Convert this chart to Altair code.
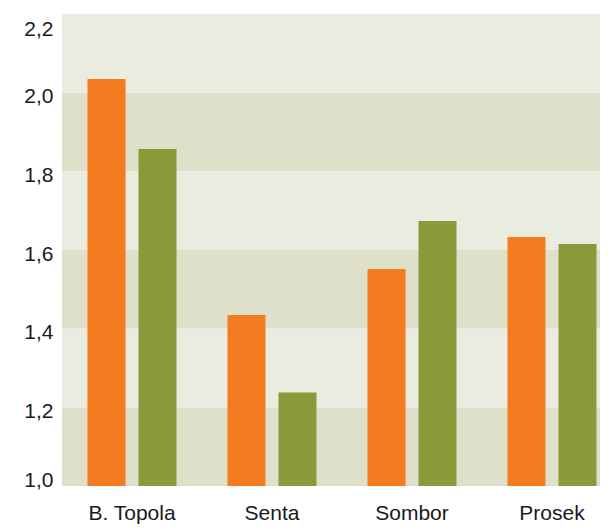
import altair as alt
import pandas as pd

categories = ["B. Topola", "Senta", "Sombor", "Prosek"]
series = ["Serija 1", "Serija 2"]
values_1 = [2.035, 1.435, 1.552, 1.633]
values_2 = [1.857, 1.238, 1.674, 1.615]
colors = ["#F47B20", "#8A9A3B"]

band_lo = [1.0, 1.2, 1.4, 1.6, 1.8, 2.0]
band_hi = [1.2, 1.4, 1.6, 1.8, 2.0, 2.2]
band_kind = ["dark", "light", "dark", "light", "dark", "light"]
band_colors = ["#DFE0CA", "#EBECE0"]
tick_values = [1.0, 1.2, 1.4, 1.6, 1.8, 2.0, 2.2]

rows = []
for c, v1, v2 in zip(categories, values_1, values_2):
    rows.append({"grad": c, "serija": series[0], "v": v1})
    rows.append({"grad": c, "serija": series[1], "v": v2})
df = pd.DataFrame(rows)
bands = pd.DataFrame({"lo": band_lo, "hi": band_hi, "kind": band_kind})

FONT = "Liberation Sans"
yscale = alt.Scale(domain=[1.0, 2.2], zero=False, nice=False)
yaxis = alt.Axis(title=None, values=tick_values, ticks=False, domain=False, grid=False,
                 labelPadding=9, labelFontSize=21, labelColor="#1a1a1a",
                 labelFont=FONT, labelFlush=True, labelOffset=4,
                 labelExpr="replace(format(datum.value, '.1f'), '.', ',')")

bg = alt.Chart(bands).mark_rect().encode(
    y=alt.Y("lo:Q", scale=yscale, axis=yaxis),
    y2="hi:Q",
    color=alt.Color("kind:N", scale=alt.Scale(domain=["dark", "light"], range=band_colors), legend=None),
)

bars = alt.Chart(df).mark_bar().encode(
    x=alt.X("grad:N", sort=categories,
            scale=alt.Scale(paddingInner=0, paddingOuter=0, range=[0, 560]),
            axis=alt.Axis(title=None, labelAngle=0, ticks=False, domain=False,
                          labelPadding=16, labelFontSize=21, labelColor="#1a1a1a",
                          labelFont=FONT)),
    xOffset=alt.XOffset("serija:N", sort=series,
                        scale=alt.Scale(paddingInner=0.255, paddingOuter=0.5)),
    y=alt.Y("v:Q", scale=yscale, axis=yaxis),
    y2=alt.datum(1.0),
    color=alt.Color("serija:N", scale=alt.Scale(domain=series, range=colors), legend=None),
)

chart = alt.layer(bg, bars).resolve_scale(color="independent").properties(
    width=538, height=472,
    autosize=alt.AutoSizeParams(type="none"),
    padding={"left": 54, "top": 6, "right": 0, "bottom": 38},
).configure_view(stroke=None)

chart.save("out.html", embed_options={"renderer": "svg", "actions": False})
